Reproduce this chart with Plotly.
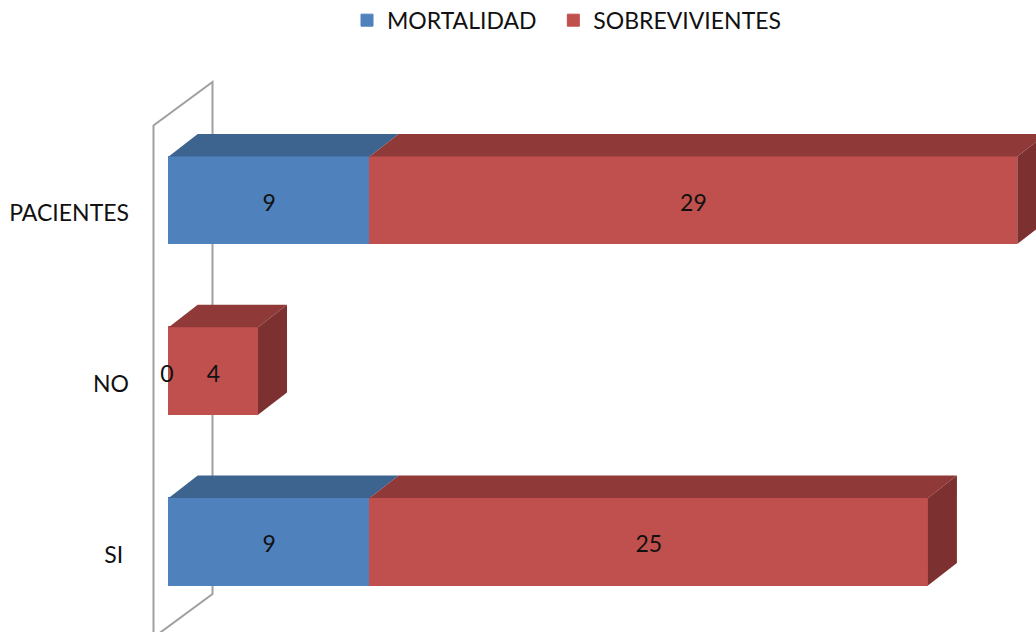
import plotly.graph_objects as go

categories = ["SI", "NO", "PACIENTES"]
mortalidad = [9, 0, 9]
sobrevivientes = [25, 4, 29]
series_names = ["MORTALIDAD", "SOBREVIVIENTES"]

W, H = 1036, 632
X0_PX, UNIT_PX = 168.7, 22.33
Y0_PX, STEP_PX = 541.7, 170.7
DX_PX, DY_PX = 29.0, 22.4
BAR_PX = 87.6
FONT = "Lato"
TEXT = "#111111"
BLUE, BLUE_TOP = "#4F81BD", "#3D638F"
RED, RED_TOP, RED_SIDE = "#C0504D", "#8F3A39", "#7C3130"

xr = [-X0_PX / UNIT_PX, (W - X0_PX) / UNIT_PX]
yr = [-(H - Y0_PX) / STEP_PX, Y0_PX / STEP_PX]
dx, dy = DX_PX / UNIT_PX, DY_PX / STEP_PX
hb = BAR_PX / STEP_PX / 2
pos = list(range(len(categories)))

fig = go.Figure()


def face(xs, ys, color):
    fig.add_trace(go.Scatter(x=xs, y=ys, mode="lines", fill="toself", fillcolor=color,
                             line=dict(color=color, width=0), showlegend=False,
                             hoverinfo="skip"))


fig.add_trace(go.Bar(name=series_names[0] + "\u00a0\u00a0", y=pos, x=mortalidad, orientation="h",
                     width=2 * hb, marker=dict(color=BLUE, line=dict(color=BLUE, width=1))))
fig.add_trace(go.Bar(name=series_names[1], y=pos, x=sobrevivientes, orientation="h", width=2 * hb,
                     marker=dict(color=RED, line=dict(color=RED, width=1))))

for p, m, s in zip(pos, mortalidad, sobrevivientes):
    t = p + hb
    if m > 0:
        face([0, m, m + dx, dx, 0], [t, t, t + dy, t + dy, t], BLUE_TOP)
    face([m, m + s, m + s + dx, m + dx, m], [t, t, t + dy, t + dy, t], RED_TOP)
    e = m + s
    face([e, e + dx, e + dx, e, e], [t, t + dy, p - hb + dy, p - hb, t], RED_SIDE)

label_x, label_y, label_t = [], [], []
for p, m, s in zip(pos, mortalidad, sobrevivientes):
    label_x += [m / 2 if m else -0.08, m + s / 2]
    label_y += [p, p]
    label_t += [str(m), str(s)]
fig.add_trace(go.Scatter(x=label_x, y=[v - 0.028 for v in label_y], mode="text", text=label_t,
                         textposition="middle center",
                         textfont=dict(family=FONT, size=23, color=TEXT),
                         showlegend=False, hoverinfo="skip"))

# chart wall, placed from the same depth as the bars
wall_l = -15.2 / UNIT_PX
wall_r = wall_l + 59 / UNIT_PX
wall_top = (Y0_PX - 82) / STEP_PX
wall_bot = (Y0_PX - 594) / STEP_PX
wall_drop = 43.5 / STEP_PX
fig.add_shape(type="path", xref="x", yref="y", layer="below",
              path=(f"M{wall_l},{wall_bot - wall_drop} L{wall_l},{wall_top - wall_drop} "
                    f"L{wall_r},{wall_top} L{wall_r},{wall_bot} L{wall_l},{wall_bot - wall_drop}"),
              line=dict(color="#A0A0A0", width=2))

fig.update_layout(
    width=W, height=H, autosize=False,
    margin=dict(l=0, r=0, t=0, b=0, autoexpand=False),
    paper_bgcolor="white", plot_bgcolor="white",
    barmode="stack", bargap=0,
    showlegend=True,
    font=dict(family=FONT, size=23, color=TEXT),
    legend=dict(orientation="h", x=347 / W, xanchor="left", y=1.002, yanchor="top",
                font=dict(family=FONT, size=23, color=TEXT),
                bgcolor="rgba(0,0,0,0)", itemwidth=30, traceorder="normal"),
    xaxis=dict(range=xr, visible=False, fixedrange=True),
    yaxis=dict(range=yr, tickmode="array", tickvals=[p - 0.075 for p in pos],
               ticktext=[c + "\u00a0" if c == "SI" else c for c in categories],
               showgrid=False, zeroline=False, showline=False, ticks="", fixedrange=True,
               anchor="free", position=129 / W, side="left",
               tickfont=dict(family=FONT, size=23, color=TEXT)),
)

fig.write_html("out.html", config=dict(displayModeBar=False),
               post_script="document.body.style.margin='0';")
